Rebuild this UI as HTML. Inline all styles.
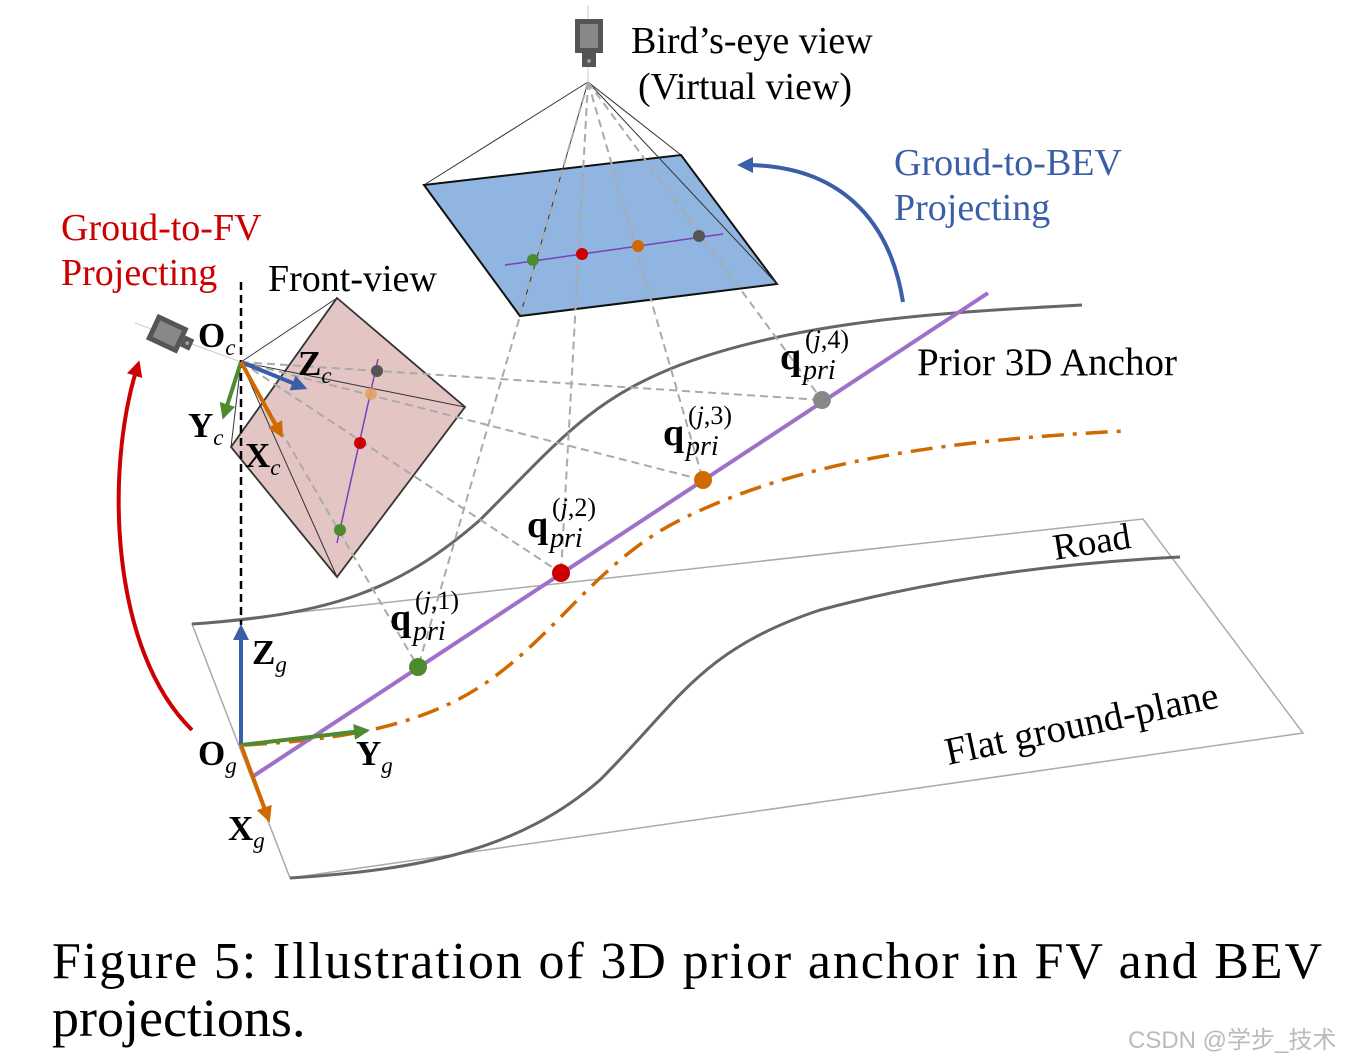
<!DOCTYPE html>
<html><head><style>
html,body{margin:0;padding:0;background:#fff;}
svg{display:block;}
text{font-family:"Liberation Serif",serif;}
</style></head><body>
<svg width="1352" height="1062" viewBox="0 0 1352 1062" xmlns="http://www.w3.org/2000/svg">
<defs>
<marker id="ab" markerWidth="4" markerHeight="4" refX="2" refY="2" orient="auto" markerUnits="strokeWidth"><path d="M0,0 L4,2 L0,4 z" fill="#3a5ea8"/></marker>
<marker id="ar" markerWidth="4" markerHeight="4" refX="2" refY="2" orient="auto" markerUnits="strokeWidth"><path d="M0,0 L4,2 L0,4 z" fill="#cc0000"/></marker>
<marker id="ag" markerWidth="4" markerHeight="4" refX="2" refY="2" orient="auto" markerUnits="strokeWidth"><path d="M0,0 L4,2 L0,4 z" fill="#4e8a2e"/></marker>
<marker id="ao" markerWidth="4" markerHeight="4" refX="2" refY="2" orient="auto" markerUnits="strokeWidth"><path d="M0,0 L4,2 L0,4 z" fill="#d06a00"/></marker>
<marker id="abl" markerWidth="4" markerHeight="4" refX="2" refY="2" orient="auto" markerUnits="strokeWidth"><path d="M0,0 L4,2 L0,4 z" fill="#3a5ea8"/></marker>
</defs>

<polygon points="192,624 1143,519 1303,733 290,878" fill="none" stroke="#aaa" stroke-width="1.5"/>
<path d="M192,624 C330,615 400,590 480,520 C560,440 590,400 680,365 C800,320 950,312 1082,305" fill="none" stroke="#666" stroke-width="3"/>
<path d="M290,878 C420,870 520,850 600,780 C680,700 700,650 820,610 C950,575 1080,562 1180,557" fill="none" stroke="#666" stroke-width="3"/>

<polygon points="337,298 465,407 337,577 231,447" fill="#e3c6c4" stroke="#333" stroke-width="1.8"/>
<g stroke="#333" stroke-width="1" fill="none">
<line x1="241" y1="362" x2="337" y2="298"/><line x1="241" y1="362" x2="465" y2="407"/>
<line x1="241" y1="362" x2="337" y2="577"/><line x1="241" y1="362" x2="231" y2="447"/>
</g>
<line x1="378" y1="359" x2="337" y2="543" stroke="#7b3fbf" stroke-width="1.5"/>

<g stroke="#333" stroke-width="1" fill="none">
<line x1="588" y1="82" x2="424" y2="185"/><line x1="588" y1="82" x2="681" y2="155"/>
</g>
<polygon points="424,185 681,155 777,284 520,316" fill="#8fb5e0" stroke="#111" stroke-width="2"/>
<g stroke="#333" stroke-width="1" fill="none">
<line x1="588" y1="82" x2="777" y2="284"/><line x1="588" y1="82" x2="520" y2="316"/>
</g>
<line x1="505" y1="265" x2="723" y2="234" stroke="#7b3fbf" stroke-width="1.5"/>

<g stroke="#aaa" stroke-width="2" stroke-dasharray="8,5" fill="none">
<line x1="588" y1="82" x2="418" y2="667"/><line x1="588" y1="82" x2="561" y2="573"/>
<line x1="588" y1="82" x2="703" y2="480"/><line x1="588" y1="82" x2="822" y2="400"/>
<line x1="241" y1="362" x2="822" y2="400"/><line x1="241" y1="362" x2="703" y2="480"/>
<line x1="241" y1="362" x2="561" y2="573"/><line x1="241" y1="362" x2="418" y2="667"/>
</g>
<line x1="135" y1="323" x2="241" y2="362" stroke="#ccc" stroke-width="1"/>
<line x1="588" y1="5" x2="588" y2="82" stroke="#ccc" stroke-width="1"/>

<circle cx="377" cy="371" r="6" fill="#555"/><circle cx="371" cy="394" r="6" fill="#e8a060" opacity="0.85"/>
<circle cx="360" cy="443" r="6" fill="#cc0000"/><circle cx="340" cy="530" r="6" fill="#4e8a2e"/>
<circle cx="533" cy="260" r="6" fill="#4e8a2e"/><circle cx="582" cy="254" r="6" fill="#cc0000"/>
<circle cx="638" cy="246" r="6" fill="#d06a00"/><circle cx="699" cy="236" r="6" fill="#555"/>

<path d="M245,745 C330,740 420,730 490,680 C560,630 600,560 680,520 C800,460 950,440 1125,431" fill="none" stroke="#d06a00" stroke-width="3.5" stroke-dasharray="22,9,4,9"/>
<line x1="252" y1="777" x2="988" y2="293" stroke="#a070c8" stroke-width="4"/>
<circle cx="418" cy="667" r="9" fill="#4e8a2e"/><circle cx="561" cy="573" r="9" fill="#cc0000"/>
<circle cx="703" cy="480" r="9" fill="#d06a00"/><circle cx="822" cy="400" r="9" fill="#888"/>

<line x1="241" y1="282" x2="241" y2="625" stroke="#000" stroke-width="2.5" stroke-dasharray="8,5"/>

<line x1="241" y1="745" x2="241" y2="632" stroke="#3a5ea8" stroke-width="4" marker-end="url(#abl)"/>
<line x1="241" y1="745" x2="362" y2="731" stroke="#4e8a2e" stroke-width="4" marker-end="url(#ag)"/>
<line x1="241" y1="745" x2="267" y2="815" stroke="#d06a00" stroke-width="4" marker-end="url(#ao)"/>
<line x1="241" y1="362" x2="300" y2="386" stroke="#3a5ea8" stroke-width="4" marker-end="url(#abl)"/>
<line x1="241" y1="362" x2="225" y2="412" stroke="#4e8a2e" stroke-width="4" marker-end="url(#ag)"/>
<line x1="241" y1="362" x2="279" y2="431" stroke="#d06a00" stroke-width="4" marker-end="url(#ao)"/>

<path d="M192,730 C110,650 105,470 137,368" fill="none" stroke="#cc0000" stroke-width="4" marker-end="url(#ar)"/>
<path d="M903,302 C890,220 840,165 745,165" fill="none" stroke="#3a5ea8" stroke-width="4" marker-end="url(#ab)"/>

<g>
<rect x="575" y="19" width="28" height="34" fill="#555"/><rect x="580" y="24" width="18" height="24" fill="#888"/>
<rect x="582" y="53" width="14" height="14" fill="#555"/><circle cx="589" cy="61" r="2" fill="#999"/>
</g>
<g transform="translate(170,335) rotate(25)">
<rect x="-20" y="-14" width="34" height="28" fill="#555"/><rect x="-15" y="-9" width="24" height="18" fill="#888"/>
<rect x="14" y="-6" width="10" height="12" fill="#555"/><circle cx="19" cy="0" r="2" fill="#999"/>
</g>

<g font-size="38" fill="#000">
<text x="631" y="53">Bird’s-eye view</text>
<text x="638" y="99">(Virtual view)</text>
<text x="268" y="291">Front-view</text>
<text x="917" y="375" font-size="39">Prior 3D Anchor</text>
</g>
<g font-size="38" fill="#3a5ea8"><text x="894" y="175">Groud-to-BEV</text><text x="894" y="220">Projecting</text></g>
<g font-size="38" fill="#cc0000"><text x="61" y="240">Groud-to-FV</text><text x="61" y="285">Projecting</text></g>
<text x="1055" y="560" font-size="37" transform="rotate(-9 1055 560)">Road</text>
<text x="948" y="765" font-size="39" transform="rotate(-12 948 765)">Flat ground-plane</text>

<g font-size="35" font-weight="bold">
<text x="198" y="347">O<tspan font-size="23" font-style="italic" font-weight="normal" dy="8">c</tspan></text>
<text x="298" y="375">Z<tspan font-size="23" font-style="italic" font-weight="normal" dy="8">c</tspan></text>
<text x="188" y="437">Y<tspan font-size="23" font-style="italic" font-weight="normal" dy="8">c</tspan></text>
<text x="245" y="467">X<tspan font-size="23" font-style="italic" font-weight="normal" dy="8">c</tspan></text>
<text x="252" y="664">Z<tspan font-size="23" font-style="italic" font-weight="normal" dy="8">g</tspan></text>
<text x="198" y="765">O<tspan font-size="23" font-style="italic" font-weight="normal" dy="8">g</tspan></text>
<text x="356" y="765">Y<tspan font-size="23" font-style="italic" font-weight="normal" dy="8">g</tspan></text>
<text x="228" y="840">X<tspan font-size="23" font-style="italic" font-weight="normal" dy="8">g</tspan></text>
</g>

<g font-size="38" font-weight="bold">
<text x="390" y="630">q</text><text x="415" y="609" font-size="26" font-weight="normal">(<tspan font-style="italic">j</tspan>,1)</text><text x="413" y="640" font-size="28" font-style="italic" font-weight="normal">pri</text>
<text x="527" y="537">q</text><text x="552" y="516" font-size="26" font-weight="normal">(<tspan font-style="italic">j</tspan>,2)</text><text x="550" y="547" font-size="28" font-style="italic" font-weight="normal">pri</text>
<text x="663" y="445">q</text><text x="688" y="424" font-size="26" font-weight="normal">(<tspan font-style="italic">j</tspan>,3)</text><text x="686" y="455" font-size="28" font-style="italic" font-weight="normal">pri</text>
<text x="780" y="369">q</text><text x="805" y="348" font-size="26" font-weight="normal">(<tspan font-style="italic">j</tspan>,4)</text><text x="803" y="379" font-size="28" font-style="italic" font-weight="normal">pri</text>
</g>

<text x="52" y="978" font-size="52" textLength="1270" lengthAdjust="spacing">Figure 5: Illustration of 3D prior anchor in FV and BEV</text>
<text x="52" y="1036" font-size="54">projections.</text>
<text x="1128" y="1048" font-size="24" fill="#bbb" style="font-family:'Liberation Sans','Noto Sans CJK SC',sans-serif">CSDN @学步_技术</text>
</svg>
</body></html>
